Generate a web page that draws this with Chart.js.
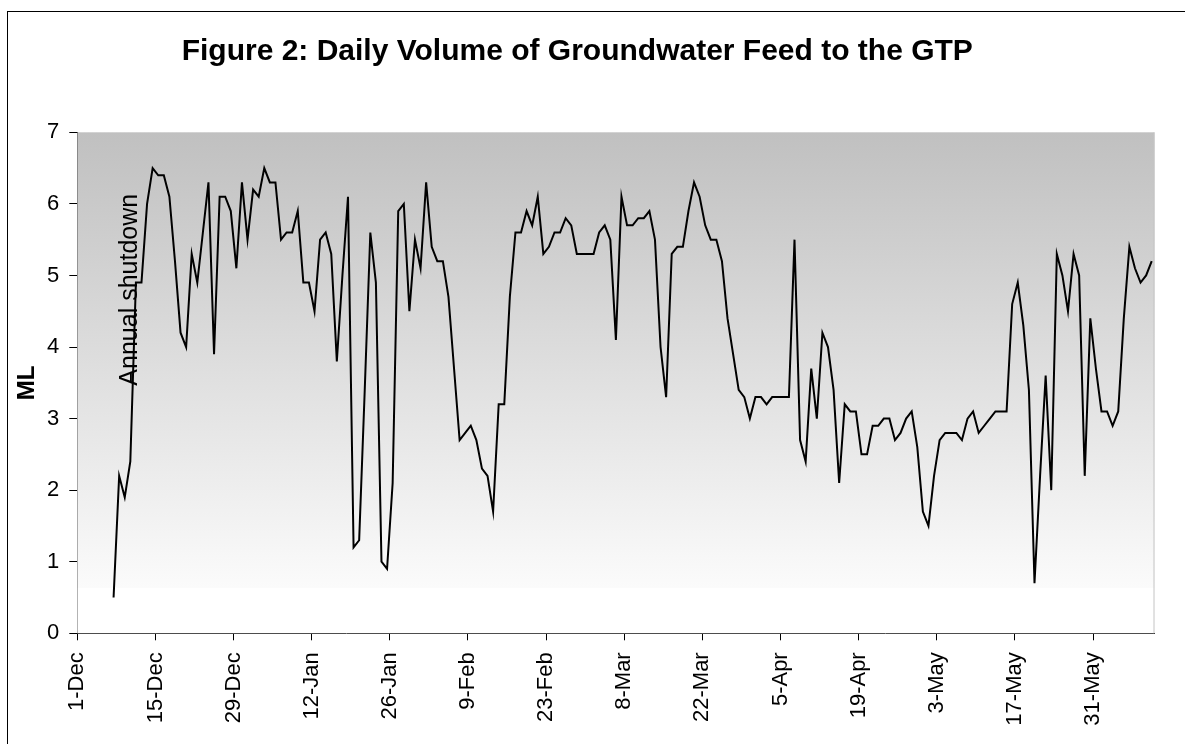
<!DOCTYPE html>
<html>
<head>
<meta charset="utf-8">
<script src="https://cdn.jsdelivr.net/npm/chart.js@4/dist/chart.umd.min.js"></script>
<style>
  html, body { margin: 0; padding: 0; background: #fff; overflow: hidden; }
  #wrap { position: relative; width: 1185px; height: 744px; }
  #frame { position: absolute; left: 7px; top: 11px; width: 1300px; height: 900px; border-left: 1.5px solid #000; border-top: 1.5px solid #000; }
  canvas { position: absolute; left: 0; top: 0; }
</style>
</head>
<body>
<div id="wrap">
  <div id="frame"></div>
  <canvas id="chart" width="1185" height="744"></canvas>
</div>
<script>
const FONT = '"Liberation Sans", Arial, Helvetica, sans-serif';

// x axis: one slot per day from 1-Dec, labelled every 14 days
const tickLabels = ['1-Dec', '15-Dec', '29-Dec', '12-Jan', '26-Jan', '9-Feb', '23-Feb', '8-Mar', '22-Mar', '5-Apr', '19-Apr', '3-May', '17-May', '31-May'];
const tickEvery = 14;
const daysShown = 193;

// daily groundwater feed (ML), first reading on 7-Dec
const firstDay = 6;
const dailyML = [
  0.5, 2.2, 1.9, 2.4, 4.9, 4.9, 6.0, 6.5, 6.4, 6.4,
  6.1, 5.2, 4.2, 4.0, 5.3, 4.9, 5.6, 6.3, 3.9, 6.1,
  6.1, 5.9, 5.1, 6.3, 5.5, 6.2, 6.1, 6.5, 6.3, 6.3,
  5.5, 5.6, 5.6, 5.9, 4.9, 4.9, 4.5, 5.5, 5.6, 5.3,
  3.8, 5.0, 6.1, 1.2, 1.3, 3.4, 5.6, 4.9, 1.0, 0.9,
  2.1, 5.9, 6.0, 4.5, 5.5, 5.1, 6.3, 5.4, 5.2, 5.2,
  4.7, 3.7, 2.7, 2.8, 2.9, 2.7, 2.3, 2.2, 1.7, 3.2,
  3.2, 4.7, 5.6, 5.6, 5.9, 5.7, 6.1, 5.3, 5.4, 5.6,
  5.6, 5.8, 5.7, 5.3, 5.3, 5.3, 5.3, 5.6, 5.7, 5.5,
  4.1, 6.1, 5.7, 5.7, 5.8, 5.8, 5.9, 5.5, 4.0, 3.3,
  5.3, 5.4, 5.4, 5.9, 6.3, 6.1, 5.7, 5.5, 5.5, 5.2,
  4.4, 3.9, 3.4, 3.3, 3.0, 3.3, 3.3, 3.2, 3.3, 3.3,
  3.3, 3.3, 5.5, 2.7, 2.4, 3.7, 3.0, 4.2, 4.0, 3.4,
  2.1, 3.2, 3.1, 3.1, 2.5, 2.5, 2.9, 2.9, 3.0, 3.0,
  2.7, 2.8, 3.0, 3.1, 2.6, 1.7, 1.5, 2.2, 2.7, 2.8,
  2.8, 2.8, 2.7, 3.0, 3.1, 2.8, 2.9, 3.0, 3.1, 3.1,
  3.1, 4.6, 4.9, 4.3, 3.4, 0.7, 2.2, 3.6, 2.0, 5.3,
  5.0, 4.5, 5.3, 5.0, 2.2, 4.4, 3.7, 3.1, 3.1, 2.9,
  3.1, 4.4, 5.4, 5.1, 4.9, 5.0, 5.2
];

// text note on the plot
const noteText = 'Annual shutdown';
const noteDay = 10.7;
const noteML = 4.8;

// points sit in the middle of their day slot
const points = dailyML.map((v, i) => ({ x: firstDay + i + 0.5, y: v }));

const plotBackground = {
  id: 'plotBackground',
  beforeDatasetsDraw(chart) {
    const { ctx, chartArea: a } = chart;
    const g = ctx.createLinearGradient(0, a.top, 0, a.bottom);
    g.addColorStop(0, '#c0c0c0');
    g.addColorStop(0.91, '#fbfbfb');
    g.addColorStop(0.91, '#ffffff');
    g.addColorStop(1, '#ffffff');
    ctx.save();
    ctx.fillStyle = g;
    ctx.fillRect(a.left, a.top, a.right - a.left, a.bottom - a.top);
    ctx.strokeStyle = '#c4c4c4';
    ctx.lineWidth = 1;
    ctx.beginPath();
    ctx.moveTo(a.right - 0.5, a.top);
    ctx.lineTo(a.right - 0.5, a.bottom);
    ctx.stroke();
    ctx.restore();
  }
};

const shutdownNote = {
  id: 'shutdownNote',
  afterDatasetsDraw(chart) {
    const { ctx, scales } = chart;
    ctx.save();
    ctx.translate(scales.x.getPixelForValue(noteDay), scales.y.getPixelForValue(noteML));
    ctx.rotate(-Math.PI / 2);
    ctx.font = '25px ' + FONT;
    ctx.fillStyle = '#000';
    ctx.textAlign = 'center';
    ctx.textBaseline = 'alphabetic';
    ctx.fillText(noteText, 0, 0);
    ctx.restore();
  }
};

new Chart(document.getElementById('chart'), {
  type: 'line',
  data: {
    datasets: [{
      data: points,
      borderColor: '#000',
      borderWidth: 2,
      pointRadius: 0,
      tension: 0,
      fill: false
    }]
  },
  options: {
    responsive: false,
    animation: false,
    devicePixelRatio: 1,
    layout: { padding: { left: 0, right: 30.5, top: 0, bottom: 0 } },
    plugins: {
      legend: { display: false },
      tooltip: { enabled: false },
      title: {
        display: true,
        text: 'Figure 2: Daily Volume of Groundwater Feed to the GTP',
        color: '#000',
        font: { family: FONT, size: 30, weight: 'bold' },
        padding: { top: 34, bottom: 62.3 }
      }
    },
    scales: {
      x: {
        type: 'linear',
        min: 0,
        max: daysShown,
        afterBuildTicks: s => { s.ticks = tickLabels.map((_, i) => ({ value: i * tickEvery })); },
        afterFit: s => { s.height = 110.7; },
        ticks: {
          autoSkip: false,
          minRotation: 90,
          maxRotation: 90,
          padding: 12,
          color: '#000',
          font: { family: FONT, size: 22 },
          callback: (v, i) => tickLabels[i]
        },
        grid: { drawOnChartArea: false, tickLength: 7, color: '#000' },
        border: { color: '#000', width: 1 }
      },
      y: {
        min: 0,
        max: 7,
        afterFit: s => { s.width = 77.3; },
        ticks: {
          stepSize: 1,
          padding: 10,
          color: '#000',
          font: { family: FONT, size: 22 }
        },
        grid: { drawOnChartArea: false, tickLength: 8, color: '#000' },
        border: { color: '#000', width: 1 },
        title: {
          display: true,
          text: 'ML',
          color: '#000',
          font: { family: FONT, size: 24, weight: 'bold' },
          padding: { top: 13, bottom: 0 }
        }
      }
    }
  },
  plugins: [plotBackground, shutdownNote]
});
</script>
</body>
</html>
